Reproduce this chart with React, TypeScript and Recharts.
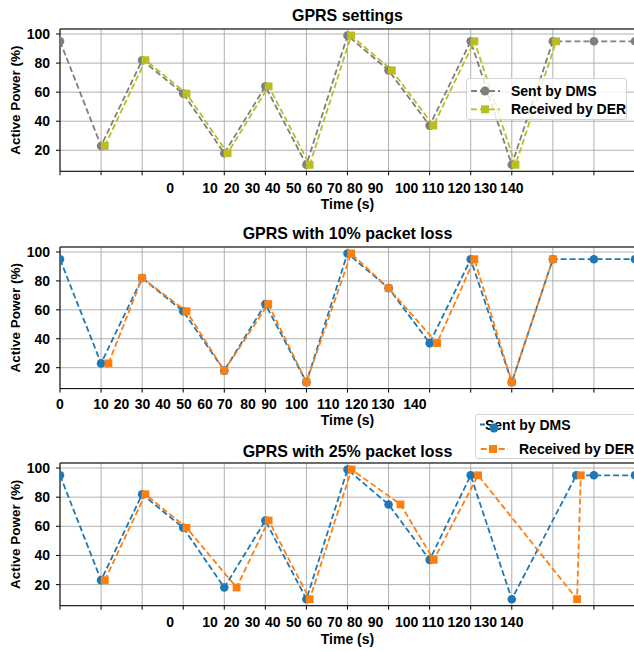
import React from 'react';
import { LineChart, Line, XAxis, YAxis, CartesianGrid, Legend, ReferenceLine } from 'recharts';

// sample instants (s) and commanded power (%)
const gridTimes = [0, 10, 20, 30, 40, 50, 60, 70, 80, 90, 100, 110, 120, 130, 140];
const powerTicks = [20, 40, 60, 80, 100];
const powerDomain: [number, number] = [5.55, 103.45];
const timeLabels = ['0', '10', '20', '30', '40', '50', '60', '70', '80', '90', '100', '110', '120', '130', '140'];
// where the (misplaced) time labels sit, in seconds
const shiftedLabelPos = [26.8, 36.5, 41.8, 46.9, 51.8, 56.9, 62.0, 66.9, 71.8, 76.8, 84.4, 90.8, 97.2, 103.6, 110.0];
const leftLabelPos = [0, 10, 15, 20.1, 25.1, 30.2, 35.3, 40.1, 45.8, 50.9, 57.6, 65.3, 72.2, 78.6, 86.4];

const sentTimes = [0, 10, 20, 30, 40, 50, 60, 70, 80, 90, 100, 110, 120, 130, 140];
const sentPower = [95, 23, 82, 59, 18, 64, 10, 99, 75, 37, 95, 10, 95, 95, 95];
const sentTimes25 = [0, 10, 20, 30, 40, 50, 60, 70, 80, 90, 100, 110, 125.7, 130, 140];

const rxPower = [23, 82, 59, 18, 64, 10, 99, 75, 37, 95, 10, 95];
const rxTimesSettings = [10.9, 20.8, 30.8, 40.8, 50.8, 60.8, 70.9, 80.8, 90.9, 100.9, 110.9, 120.8];
const rxTimes10 = [11.8, 20, 30.8, 40, 50.7, 60, 70.9, 80, 91.8, 100.9, 110, 120];
const rxTimes25 = [10.9, 20.8, 30.8, 43, 50.8, 60.8, 71, 82.9, 91, 101.8, 125.9, 126.8];

const rows = (times: number[], power: number[]) => times.map((t, i) => ({ t, p: power[i] }));

const FONT = '"Liberation Sans", Arial, Helvetica, sans-serif';
const bold = { fontFamily: FONT, fontWeight: 700, fill: '#000' };

const circleDot = (color: string, r: number) => (props: any) => (
  <circle key={`c${props.index}`} cx={props.cx} cy={props.cy} r={r} fill={color} />
);
const squareDot = (color: string, s: number) => (props: any) => (
  <rect key={`s${props.index}`} x={props.cx - s / 2} y={props.cy - s / 2} width={s} height={s} fill={color} />
);
const EmptyTick = () => <g />;

function TopLegend() {
  return (
    <svg width={161} height={42} style={{ display: 'block' }}>
      <line x1={4} x2={33} y1={12} y2={12} stroke="#7f7f7f" strokeWidth={1.8} strokeDasharray="6 3" />
      <circle cx={18} cy={12} r={4.5} fill="#7f7f7f" />
      <text x={44} y={17} fontSize={14} style={bold}>Sent by DMS</text>
      <line x1={4} x2={33} y1={30.3} y2={30.3} stroke="#bcbd22" strokeWidth={1.8} strokeDasharray="6 3" />
      <rect x={14} y={26.3} width={8} height={8} fill="#bcbd22" />
      <text x={44} y={35.3} fontSize={14} style={bold}>Received by DER</text>
    </svg>
  );
}

function LossLegend() {
  return (
    <svg width={170} height={45} style={{ display: 'block' }}>
      <line x1={4} x2={9} y1={9.5} y2={9.5} stroke="#1f77b4" strokeWidth={1.8} />
      <text x={9} y={15} fontSize={14} style={bold}>Sent by DMS</text>
      <circle cx={18} cy={13} r={4.5} fill="#1f77b4" />
      <line x1={4.7} x2={32} y1={34} y2={34} stroke="#ff7f0e" strokeWidth={1.8} strokeDasharray="6 3" />
      <rect x={13} y={30} width={8} height={8} fill="#ff7f0e" />
      <text x={43} y={39} fontSize={14} style={bold}>Received by DER</text>
    </svg>
  );
}

interface PanelProps {
  title: string;
  plotTop: number;
  plotH: number;
  titleOffset: number;
  labelMargin: number;
  timeOffset: number;
  labelPos: number[];
  sent: { t: number; p: number }[];
  rx: { t: number; p: number }[];
  sentColor: string;
  rxColor: string;
  legend: 'top' | 'loss' | 'none';
}

const MARGIN_TOP = 28;

function Panel(props: PanelProps) {
  const { title, plotTop, plotH, titleOffset, labelMargin, timeOffset, labelPos, sent, rx, sentColor, rxColor, legend } = props;
  const chartTop = plotTop - MARGIN_TOP;
  const height = MARGIN_TOP + plotH + 4 + 44;
  const legendStyle =
    legend === 'top'
      ? { left: 466, top: 78 - chartTop, width: 161, height: 42 }
      : { left: 475, top: 414 - chartTop, width: 170, height: 45 };

  return (
    <div style={{ position: 'absolute', left: 0, top: chartTop }}>
      <LineChart width={640} height={height} margin={{ top: MARGIN_TOP, right: 5, bottom: 0, left: 0 }}>
        <CartesianGrid stroke="#b0b0b0" strokeWidth={1} />
        <XAxis
          dataKey="t"
          type="number"
          domain={[0, 140]}
          allowDataOverflow
          ticks={gridTimes}
          interval={0}
          height={4}
          tickSize={4}
          tick={EmptyTick}
          tickLine={{ stroke: '#000' }}
          axisLine={{ stroke: '#000', strokeWidth: 1 }}
        />
        <XAxis
          xAxisId="lab"
          dataKey="t"
          type="number"
          domain={[0, 140]}
          allowDataOverflow
          ticks={labelPos}
          interval={0}
          tickFormatter={(_v: number, i: number) => timeLabels[i]}
          height={44}
          tickSize={0}
          tickMargin={labelMargin}
          tickLine={false}
          axisLine={false}
          tick={{ ...bold, fontSize: 14 }}
          label={{ value: 'Time (s)', position: 'insideTop', offset: timeOffset, style: { ...bold, fontSize: 14 } }}
        />
        <YAxis
          type="number"
          domain={powerDomain}
          allowDataOverflow
          ticks={powerTicks}
          width={60}
          tickSize={4}
          tickMargin={6}
          tickLine={{ stroke: '#000' }}
          axisLine={{ stroke: '#000', strokeWidth: 1 }}
          tick={{ ...bold, fontSize: 14 }}
          label={{
            value: 'Active Power (%)',
            angle: -90,
            position: 'insideLeft',
            offset: 15.5,
            style: { ...bold, fontSize: 13.5, textAnchor: 'middle' },
          }}
        />
        {/* top spine of the axes box, carrying the panel title */}
        <ReferenceLine
          y={powerDomain[1]}
          stroke="#000"
          strokeWidth={1}
          label={{ value: title, position: 'top', offset: titleOffset, style: { ...bold, fontSize: 16 } }}
        />
        {/* invisible series so the label axis gets a scale */}
        <Line xAxisId="lab" data={sent} dataKey="p" stroke="none" dot={false} activeDot={false} legendType="none" isAnimationActive={false} />
        <Line
          data={sent}
          dataKey="p"
          type="linear"
          stroke={sentColor}
          strokeWidth={1.8}
          strokeDasharray="6 3"
          dot={circleDot(sentColor, 4.3)}
          activeDot={false}
          isAnimationActive={false}
        />
        <Line
          data={rx}
          dataKey="p"
          type="linear"
          stroke={rxColor}
          strokeWidth={1.8}
          strokeDasharray="6 3"
          dot={squareDot(rxColor, 7.8)}
          activeDot={false}
          isAnimationActive={false}
        />
        {legend !== 'none' && (
          <Legend
            layout="vertical"
            align="center"
            verticalAlign="middle"
            content={() => (legend === 'top' ? <TopLegend /> : <LossLegend />)}
            wrapperStyle={{
              ...legendStyle,
              position: 'absolute',
              background: 'rgba(255,255,255,0.8)',
              border: '1px solid #d3d3d3',
              borderRadius: 3,
              boxSizing: 'border-box',
              overflow: 'hidden',
            }}
          />
        )}
      </LineChart>
    </div>
  );
}

export default function App() {
  return (
    <div
      style={{
        position: 'absolute',
        left: 0,
        top: 0,
        width: 634,
        height: 652,
        overflow: 'hidden',
        background: '#fff',
      }}
    >
      <Panel
        title="GPRS settings"
        plotTop={28.7}
        plotH={142.3}
        titleOffset={8}
        labelMargin={7.6}
        timeOffset={23.3}
        labelPos={shiftedLabelPos}
        sent={rows(sentTimes, sentPower)}
        rx={rows(rxTimesSettings, rxPower)}
        sentColor="#7f7f7f"
        rxColor="#bcbd22"
        legend="top"
      />
      <Panel
        title="GPRS with 10% packet loss"
        plotTop={246.7}
        plotH={141.6}
        titleOffset={7.7}
        labelMargin={6.2}
        timeOffset={22.8}
        labelPos={leftLabelPos}
        sent={rows(sentTimes, sentPower)}
        rx={rows(rxTimes10, rxPower)}
        sentColor="#1f77b4"
        rxColor="#ff7f0e"
        legend="none"
      />
      <Panel
        title="GPRS with 25% packet loss"
        plotTop={463.3}
        plotH={142.7}
        titleOffset={5.9}
        labelMargin={7.6}
        timeOffset={24.3}
        labelPos={shiftedLabelPos}
        sent={rows(sentTimes25, sentPower)}
        rx={rows(rxTimes25, rxPower)}
        sentColor="#1f77b4"
        rxColor="#ff7f0e"
        legend="loss"
      />
    </div>
  );
}
